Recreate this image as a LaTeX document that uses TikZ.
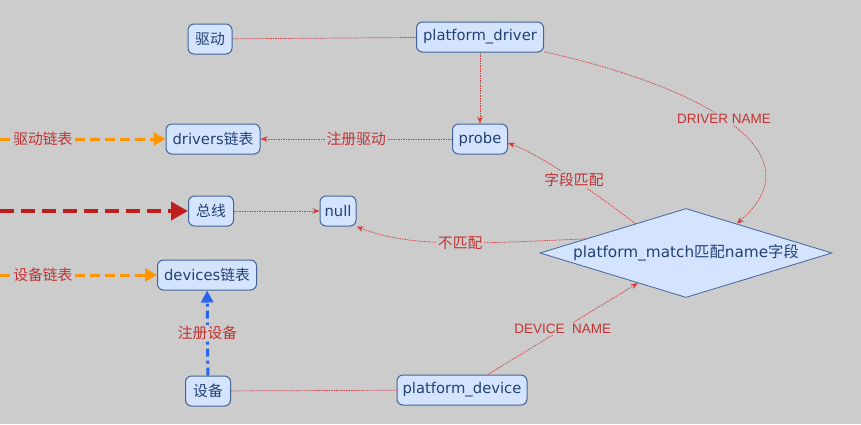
\documentclass[tikz,border=0pt]{standalone}
\usepackage{fontspec}
\setmainfont{DejaVu Sans}
\newfontfamily\cjk{Noto Sans CJK SC}
\newfontfamily\lblfont{Liberation Sans}
\usetikzlibrary{shapes.geometric,arrows.meta}
\definecolor{bg}{RGB}{204,204,204}
\definecolor{boxfill}{RGB}{212,228,255}
\definecolor{boxborder}{RGB}{65,100,155}
\definecolor{boxtext}{RGB}{35,65,115}
\definecolor{redline}{RGB}{212,60,60}
\definecolor{redtext}{RGB}{195,50,50}
\definecolor{orangeln}{RGB}{255,150,0}
\definecolor{darkredln}{RGB}{190,30,30}
\definecolor{blueln}{RGB}{40,100,240}
\tikzset{
  box/.style={draw=boxborder, fill=boxfill, rounded corners=6pt, line width=1pt,
    minimum height=30pt, inner sep=2pt, text=boxtext, font=\fontsize{14.8}{17}\selectfont},
  dia/.style={shape=diamond, draw=boxborder, fill=boxfill, line width=0.8pt, shape aspect=3.28,
    minimum width=292pt, minimum height=89pt, inner sep=0pt, text=boxtext, font=\fontsize{15.3}{17}\selectfont},
  redln/.style={draw=redline, line width=0.7pt, dash pattern=on 1.5pt off 1pt},
  redtip/.style={-{Stealth[length=7pt,width=5.5pt]}},
  lbl/.style={fill=bg, inner sep=1.5pt, text=redtext, font=\cjk\fontsize{14.8}{16}\selectfont},
  elbl/.style={fill=bg, inner sep=1.5pt, text=redtext, font=\lblfont\fontsize{13.5}{16}\selectfont},
  orangearr/.style={draw=orangeln, line width=3pt, dash pattern=on 10pt off 5pt,
    -{Triangle[length=12pt,width=13pt]}},
  darkredarr/.style={draw=darkredln, line width=4pt, dash pattern=on 14pt off 7pt,
    -{Triangle[length=17pt,width=18pt]}},
  bluearr/.style={draw=blueln, line width=3pt, dash pattern=on 8pt off 4pt on 3pt off 4pt,
    -{Triangle[length=12pt,width=12pt]}}
}
\begin{document}
\begin{tikzpicture}[x=1pt,y=-1pt]
\fill[bg] (0,0) rectangle (861,424);
\useasboundingbox (0,0) rectangle (861,424);

\node[box, minimum width=44pt] (qd) at (210,39) {\cjk 驱动};
\node[box, minimum width=127pt] (pd) at (480,37) {platform\_driver};
\node[box, minimum width=55pt] (probe) at (480,139) {probe};
\node[box, minimum width=94pt] (dl) at (213,139) {drivers{\cjk 链表}};
\node[box, minimum width=45pt] (bus) at (211,211) {\cjk 总线};
\node[box, minimum width=36pt] (null) at (338,211) {null};
\node[box, minimum width=99pt] (devl) at (207,275) {devices{\cjk 链表}};
\node[box, minimum width=45pt] (sb) at (208,391) {\cjk 设备};
\node[box, minimum width=130pt] (pdev) at (462,390) {platform\_device};
\node[dia] (dia) at (686,253) {platform\_match{\cjk 匹配}name{\cjk 字段}};

\coordinate (o1) at (0,139);
\coordinate (o2) at (0,275);
\coordinate (o3) at (0,211);

% thin red connectors
\draw[redln] (qd) -- (pd);
\draw[redln, redtip] (pd) -- (probe);
\draw[redln, redtip] (probe) -- node[lbl] {注册驱动} (dl);
\draw[redln, redtip] (bus) -- (null);
\draw[redln] (sb) -- (pdev);
\draw[redln, redtip] (pd.-13) .. controls (695,85) and (822,150) .. (dia.30)
  node[elbl, pos=0.48] {DRIVER NAME};
\draw[redln, redtip] (dia.150) .. controls (604,199.6) and (545.5,156.9) .. (probe.-8)
  node[lbl, pos=0.5] {字段匹配};
\draw[redln, redtip] (dia.172) .. controls (482,243) and (413,249) .. (null.-40)
  node[lbl, pos=0.47] {不匹配};
\draw[redln, redtip] (pdev.31) -- node[elbl] {DEVICE\ \ NAME} (dia.212);

% thick arrows
\draw[orangearr] (o1) -- node[lbl, pos=0.259] {驱动链表} (dl);
\draw[orangearr] (o2) -- node[lbl, pos=0.273] {设备链表} (devl);
\draw[darkredarr] (o3) -- (bus);
\draw[bluearr] (sb) -- node[lbl] {注册设备} (devl);
\end{tikzpicture}
\end{document}
